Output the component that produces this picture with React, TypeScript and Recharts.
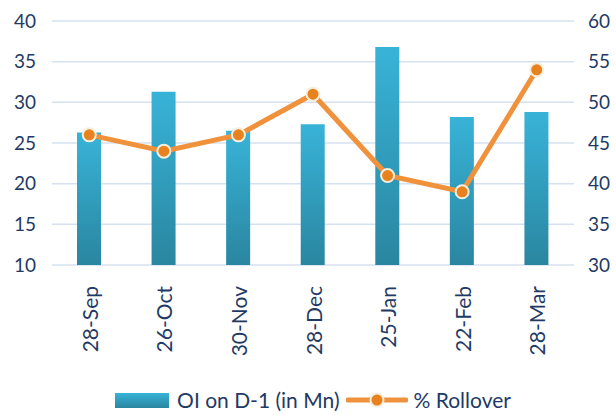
import { Bar, CartesianGrid, ComposedChart, Legend, Line, XAxis, YAxis } from 'recharts';

const months = ['28-Sep', '26-Oct', '30-Nov', '28-Dec', '25-Jan', '22-Feb', '28-Mar'];
const openInterest = [26.3, 31.3, 26.5, 27.3, 36.8, 28.2, 28.8];
const rollover = [46, 44, 46, 51, 41, 39, 54];
const leftTicks = [10, 15, 20, 25, 30, 35, 40];
const rightTicks = [30, 35, 40, 45, 50, 55, 60];

const data = months.map((m, i) => ({ month: m, oi: openInterest[i], roll: rollover[i] }));

const textColor = '#1f3a64';
const font = 'Lato, "Open Sans", sans-serif';

const Dot = (props: any) => {
    const { cx, cy } = props;
    if (cx == null || cy == null) return null;
    return <circle cx={cx} cy={cy} r={6.5} fill="#e8821e" stroke="#f6eedc" strokeWidth={2} />;
};

const MonthTick = (props: any) => {
    const { x, y, payload } = props;
    return (
        <text x={x} y={y + 13} transform={`rotate(-90 ${x} ${y + 13})`} textAnchor="end" dominantBaseline="central"
            fill={textColor} fontSize={21} fontFamily={font}>
            {payload.value}
        </text>
    );
};

const LegendBox = () => (
    <div style={{ display: 'flex', alignItems: 'center', justifyContent: 'center', fontFamily: font, fontSize: 21, lineHeight: '24px', color: textColor, paddingLeft: 10, paddingTop: 3 }}>
        <svg width={54} height={16} style={{ marginRight: 8 }}>
            <defs>
                <linearGradient id="legBar" x1="0" y1="0" x2="0" y2="1">
                    <stop offset="0%" stopColor="#38b3d8" />
                    <stop offset="100%" stopColor="#2a86a0" />
                </linearGradient>
            </defs>
            <rect x={0} y={1} width={54} height={15} fill="url(#legBar)" />
        </svg>
        <span>OI on D-1 (in Mn)</span>
        <svg width={62} height={20} style={{ margin: '0 6px' }}>
            <line x1={2} y1={10} x2={60} y2={10} stroke="#f0923c" strokeWidth={5} strokeLinecap="round" />
            <circle cx={31} cy={10} r={6.5} fill="#e8821e" stroke="#f6eedc" strokeWidth={2} />
        </svg>
        <span>% Rollover</span>
    </div>
);

export default function App() {
    return (
        <div style={{ position: 'absolute', left: 0, top: 0, width: 616, height: 415, background: '#fff' }}>
            <ComposedChart width={616} height={415} data={data} margin={{ top: 21, right: 0, bottom: 0, left: 0 }}>
                <defs>
                    <linearGradient id="barFill" x1="0" y1="0" x2="0" y2="1">
                        <stop offset="0%" stopColor="#38b3d8" />
                        <stop offset="100%" stopColor="#2a86a0" />
                    </linearGradient>
                </defs>
                <CartesianGrid vertical={false} stroke="#d6e1f0" strokeWidth={1.5} yAxisId="left" />
                <XAxis dataKey="month" height={120} axisLine={false} tickLine={false} tick={<MonthTick />} interval={0} />
                <YAxis yAxisId="left" domain={[10, 40]} ticks={leftTicks} width={52} axisLine={false} tickLine={false}
                    tickSize={0} tickMargin={16} tick={{ fill: textColor, fontSize: 19, fontFamily: font }} />
                <YAxis yAxisId="right" orientation="right" domain={[30, 60]} ticks={rightTicks} width={42} axisLine={false}
                    tickLine={false} tickSize={0} tickMargin={14} tick={{ fill: textColor, fontSize: 19, fontFamily: font, textAnchor: 'start' }} />
                <Legend verticalAlign="bottom" height={30} content={<LegendBox />} />
                <Bar yAxisId="left" dataKey="oi" barSize={24} fill="url(#barFill)" isAnimationActive={false} />
                <Line yAxisId="right" dataKey="roll" stroke="#f0923c" strokeWidth={5} dot={<Dot />} activeDot={false} isAnimationActive={false} />
            </ComposedChart>
        </div>
    );
}
